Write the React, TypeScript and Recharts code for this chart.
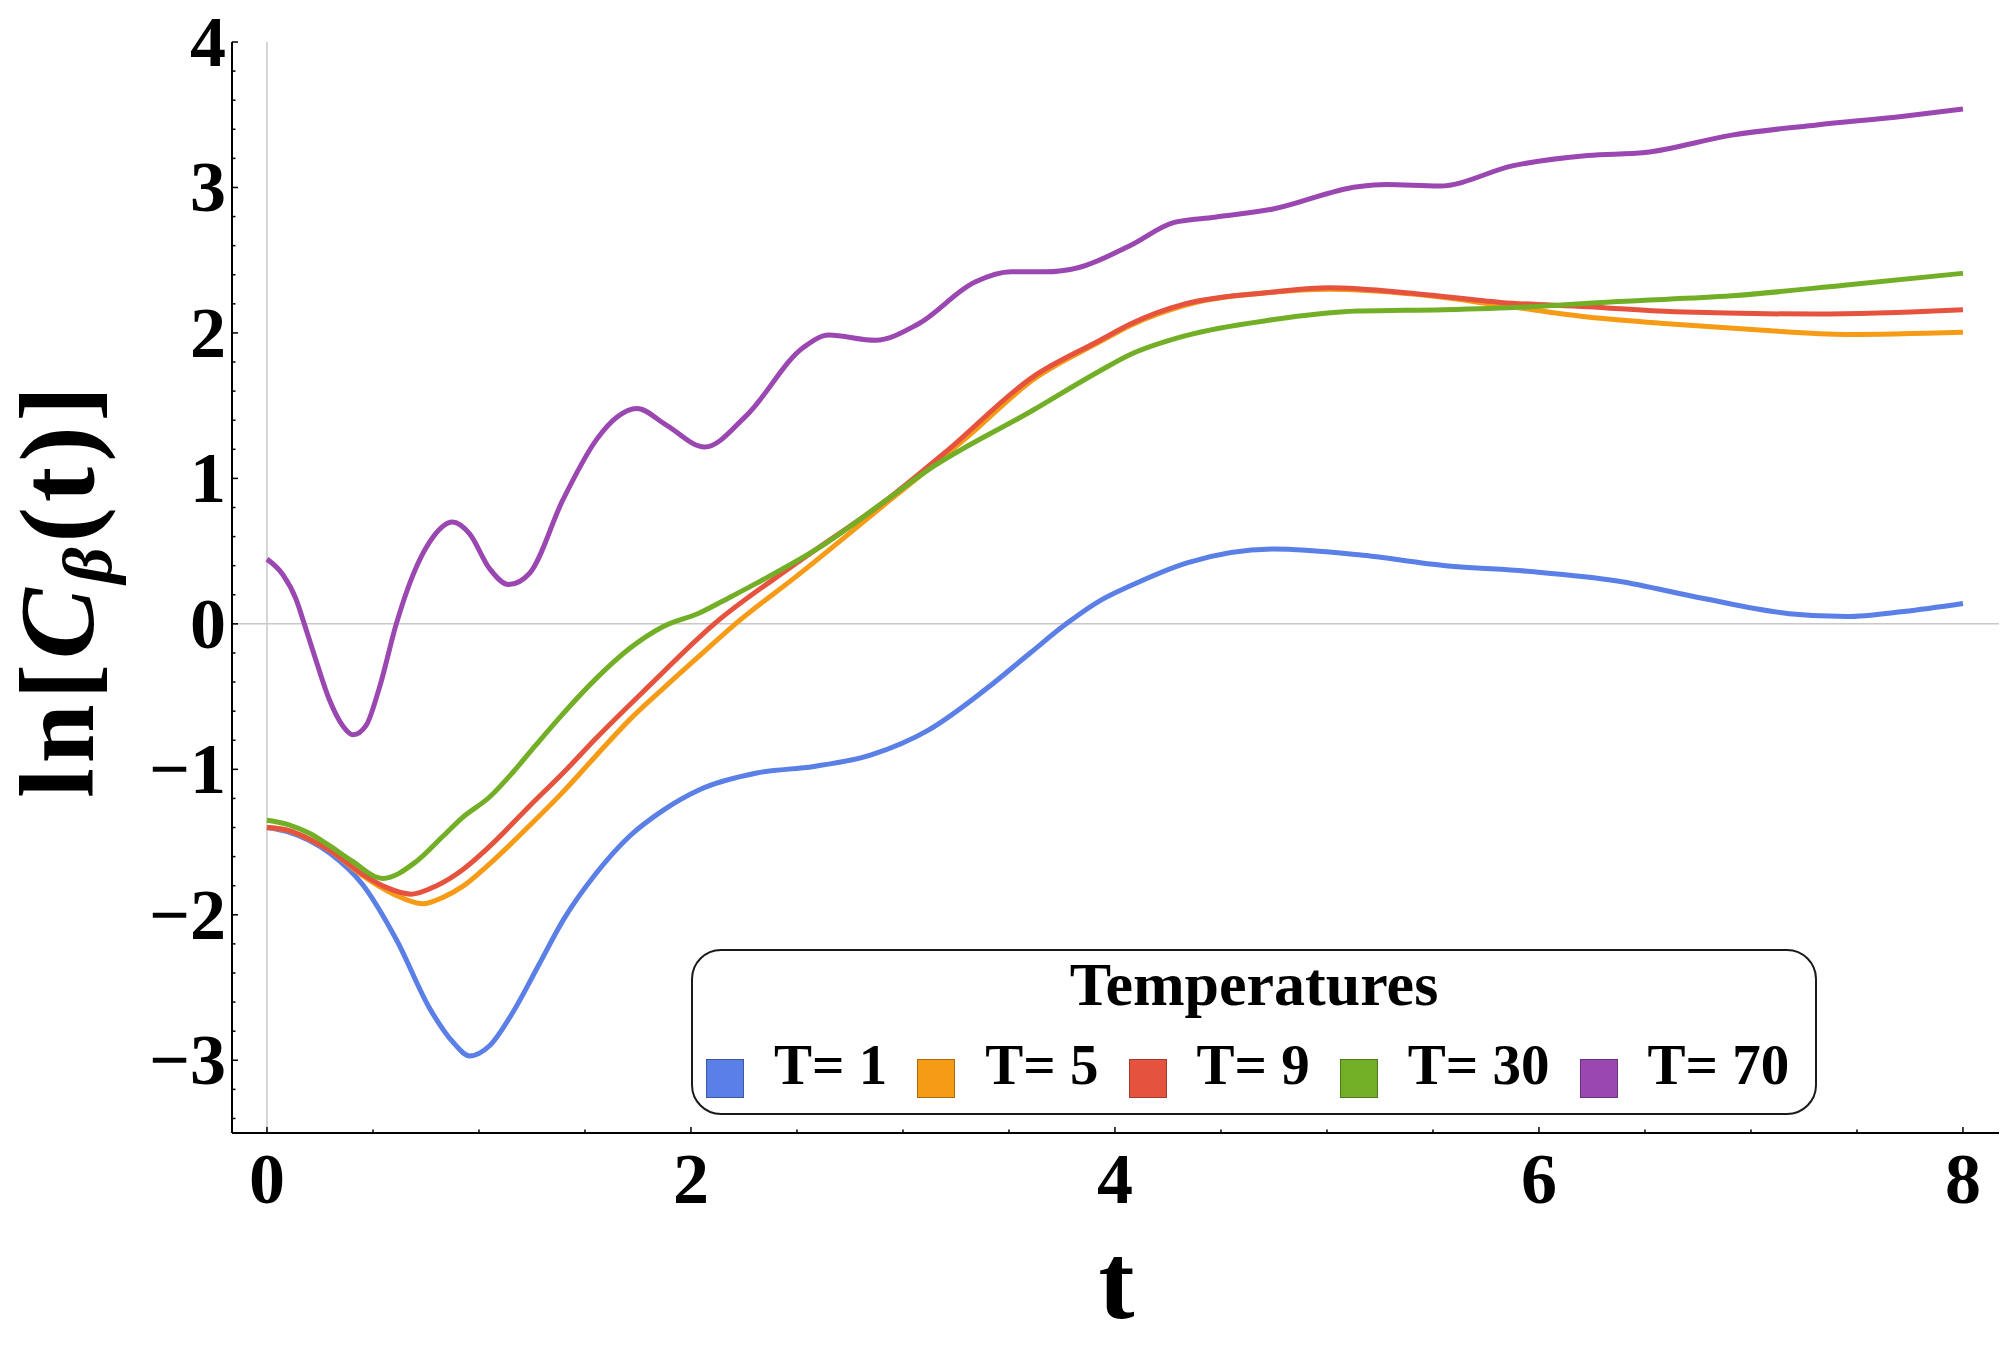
import React from "react";
import { LineChart, Line, XAxis, YAxis, ReferenceLine, Legend } from "recharts";

// ln[C_beta(t)], one pair of arrays per temperature
const tT1 = [0, 0.1, 0.2, 0.3, 0.45, 0.61, 0.77, 0.88, 0.955, 1.05, 1.16, 1.28, 1.4, 1.55, 1.71, 1.87, 2.04, 2.31, 2.58, 2.85, 3.12, 3.39, 3.6, 3.77, 3.93, 4.07, 4.34, 4.75, 5.15, 5.56, 5.96, 6.37, 6.77, 7.18, 7.45, 7.72, 8.0];
const lnT1 = [-1.4, -1.43, -1.49, -1.58, -1.79, -2.17, -2.65, -2.88, -2.97, -2.9, -2.67, -2.35, -2.03, -1.72, -1.46, -1.28, -1.14, -1.025, -0.98, -0.9, -0.73, -0.45, -0.2, 0, 0.16, 0.26, 0.42, 0.515, 0.475, 0.4, 0.36, 0.295, 0.176, 0.07, 0.05, 0.085, 0.14];

const tT5 = [0, 0.1, 0.2, 0.3, 0.45, 0.6, 0.734, 0.83, 0.923, 1.05, 1.24, 1.4, 1.55, 1.71, 1.88, 2.04, 2.21, 2.5, 2.93, 3.1, 3.3, 3.615, 3.93, 4.07, 4.33, 4.74, 5.01, 5.42, 5.82, 6.23, 6.64, 7.04, 7.45, 8.0];
const lnT5 = [-1.4, -1.42, -1.48, -1.56, -1.73, -1.86, -1.924, -1.88, -1.805, -1.65, -1.385, -1.15, -0.91, -0.66, -0.43, -0.22, 0, 0.33, 0.84, 1.04, 1.28, 1.68, 1.94, 2.05, 2.19, 2.28, 2.3, 2.265, 2.19, 2.11, 2.06, 2.02, 1.99, 2.005];

const tT9 = [0, 0.1, 0.2, 0.3, 0.45, 0.56, 0.68, 0.8, 0.923, 1.05, 1.24, 1.4, 1.55, 1.8, 2.11, 2.5, 2.93, 3.2, 3.615, 3.93, 4.07, 4.33, 4.74, 5.01, 5.42, 5.82, 6.23, 6.64, 7.31, 8.0];
const lnT9 = [-1.4, -1.42, -1.48, -1.56, -1.72, -1.81, -1.858, -1.8, -1.69, -1.53, -1.25, -1.02, -0.79, -0.43, 0, 0.42, 0.86, 1.18, 1.7, 1.95, 2.06, 2.2, 2.28, 2.31, 2.27, 2.21, 2.18, 2.145, 2.13, 2.16];

const tT30 = [0, 0.1, 0.2, 0.3, 0.4, 0.546, 0.703, 0.83, 0.923, 1.05, 1.16, 1.27, 1.395, 1.55, 1.71, 1.867, 2.04, 2.18, 2.31, 2.6, 2.93, 3.1, 3.615, 3.93, 4.07, 4.33, 4.74, 5.145, 5.55, 5.96, 6.37, 6.91, 7.45, 8.0];
const lnT30 = [-1.35, -1.38, -1.44, -1.53, -1.63, -1.75, -1.635, -1.46, -1.33, -1.19, -1.02, -0.83, -0.62, -0.38, -0.17, -0.02, 0.075, 0.18, 0.28, 0.52, 0.86, 1.04, 1.47, 1.74, 1.85, 1.98, 2.09, 2.15, 2.16, 2.18, 2.216, 2.255, 2.33, 2.41];

const tT70 = [0, 0.074, 0.137, 0.176, 0.231, 0.294, 0.357, 0.407, 0.467, 0.53, 0.61, 0.687, 0.766, 0.876, 0.955, 1.05, 1.14, 1.24, 1.395, 1.556, 1.65, 1.745, 1.88, 2.065, 2.26, 2.53, 2.65, 2.87, 3.07, 3.34, 3.51, 3.67, 3.83, 4.07, 4.28, 4.47, 4.74, 5.145, 5.28, 5.53, 5.88, 6.23, 6.5, 6.91, 7.31, 7.72, 8.0];
const lnT70 = [0.445, 0.34, 0.17, 0, -0.25, -0.52, -0.7, -0.763, -0.7, -0.44, 0, 0.33, 0.56, 0.7, 0.62, 0.38, 0.27, 0.35, 0.85, 1.27, 1.42, 1.48, 1.37, 1.216, 1.43, 1.9, 1.985, 1.95, 2.06, 2.35, 2.42, 2.42, 2.45, 2.6, 2.76, 2.795, 2.85, 3.005, 3.02, 3.01, 3.15, 3.22, 3.24, 3.36, 3.43, 3.49, 3.54];

const seriesNames = ["T= 1", "T= 5", "T= 9", "T= 30", "T= 70"];
const seriesColors = ["#5A7FE6", "#F59B16", "#E5533F", "#72AF27", "#9B47B1"];

const xMajor = [0, 2, 4, 6, 8];
const xTicks = [0, 0.5, 1, 1.5, 2, 2.5, 3, 3.5, 4, 4.5, 5, 5.5, 6, 6.5, 7, 7.5, 8];
const yMajor = [-3, -2, -1, 0, 1, 2, 3, 4];
const yTicks = [-3.4, -3.2, -3, -2.8, -2.6, -2.4, -2.2, -2, -1.8, -1.6, -1.4, -1.2, -1, -0.8, -0.6, -0.4, -0.2, 0, 0.2, 0.4, 0.6, 0.8, 1, 1.2, 1.4, 1.6, 1.8, 2, 2.2, 2.4, 2.6, 2.8, 3, 3.2, 3.4, 3.6, 3.8, 4];

const xDomain = [-0.165, 8.17];
const yDomain = [-3.5, 4];

const SERIF = "'Liberation Serif', 'Times New Roman', serif";

const toPoints = (ts: number[], vs: number[]) => ts.map((t, i) => ({ t, v: vs[i] }));

const series = [
  toPoints(tT1, lnT1),
  toPoints(tT5, lnT5),
  toPoints(tT9, lnT9),
  toPoints(tT30, lnT30),
  toPoints(tT70, lnT70),
];

const isIn = (list: number[], v: number) => list.some((m) => Math.abs(m - v) < 1e-6);

function FrameTick(props: any) {
  const { x, y, payload, side } = props;
  const v = payload.value;
  const horizontal = side === "bottom" || side === "top";
  const major = horizontal ? isIn(xMajor, v) : isIn(yMajor, v);
  const len = major ? 6 : 3.5;
  let line = null;
  if (side === "bottom") line = <line x1={x} x2={x} y1={y} y2={y - len} />;
  if (side === "top") line = <line x1={x} x2={x} y1={y} y2={y + len} />;
  if (side === "left") line = <line x1={x} x2={x + len} y1={y} y2={y} />;
  if (side === "right") line = <line x1={x} x2={x - len} y1={y} y2={y} />;

  let label = null;
  const text = v < 0 ? "\u2212" + Math.abs(v) : String(v);
  if (major && side === "bottom") {
    label = (
      <text x={x} y={y + 70} textAnchor="middle" fontSize={72} fontWeight="bold" fontFamily={SERIF} fill="#000">
        {text}
      </text>
    );
  }
  if (major && side === "left") {
    label = (
      <text x={x - 6} y={y + 24} textAnchor="end" fontSize={72} fontWeight="bold" fontFamily={SERIF} fill="#000">
        {text}
      </text>
    );
  }
  return (
    <g>
      <g stroke="#000" strokeWidth={1.5}>{line}</g>
      {label}
    </g>
  );
}

function YLabel(props: any) {
  const vb = props.viewBox;
  const cx = vb.x + 93;
  const cy = vb.y + vb.height / 2 + 2;
  return (
    <text
      x={cx}
      y={cy}
      transform={`rotate(-90 ${cx} ${cy})`}
      textAnchor="middle"
      fontSize={106}
      fontWeight="bold"
      fontFamily={SERIF}
      letterSpacing={5}
      fill="#000"
    >
      ln[<tspan fontStyle="italic">C</tspan>
      <tspan fontStyle="italic" fontSize={70} dy={18}>β</tspan>
      <tspan dy={-18}>(t)]</tspan>
    </text>
  );
}

function XLabel(props: any) {
  const vb = props.viewBox;
  return (
    <text
      x={vb.x + vb.width / 2 + 1}
      y={vb.y + 185}
      textAnchor="middle"
      fontSize={108}
      fontWeight="bold"
      fontFamily={SERIF}
      fill="#000"
    >
      t
    </text>
  );
}

function LegendBox(props: any) {
  const payload = [...(props.payload || [])].sort(
    (a: any, b: any) => seriesNames.indexOf(a.value) - seriesNames.indexOf(b.value)
  );
  return (
    <div
      style={{
        position: "relative",
        width: 1126,
        height: 166,
        boxSizing: "border-box",
        border: "2px solid #1a1a1a",
        borderRadius: 30,
        background: "#fff",
        fontFamily: SERIF,
        fontWeight: "bold",
        color: "#000",
      }}
    >
      <div
        style={{
          position: "absolute",
          left: 0,
          right: 0,
          top: 2,
          textAlign: "center",
          fontSize: 62,
          lineHeight: "62px",
        }}
      >
        Temperatures
      </div>
      <div
        style={{
          position: "absolute",
          left: 13,
          top: 85,
          display: "flex",
          alignItems: "flex-start",
          whiteSpace: "pre",
          fontSize: 57,
          lineHeight: "57px",
        }}
      >
        {payload.map((entry: any) => (
          <React.Fragment key={entry.value}>
            <span
              style={{
                display: "inline-block",
                width: 38,
                height: 39,
                marginTop: 23,
                marginRight: 30,
                boxSizing: "border-box",
                background: entry.color,
                border: "1px solid rgba(0,0,0,0.3)",
              }}
            />
            <span style={{ marginRight: 30 }}>{entry.value}</span>
          </React.Fragment>
        ))}
      </div>
    </div>
  );
}

export default function App() {
  return (
    <div style={{ position: "absolute", left: 0, top: 0, width: 2000, height: 1347, background: "#fff" }}>
      <LineChart width={2000} height={1347} margin={{ top: 42, right: 1, bottom: 0, left: 0 }}>
        <XAxis
          dataKey="t"
          type="number"
          domain={xDomain}
          allowDataOverflow
          ticks={xTicks}
          interval={0}
          height={214}
          tickSize={0}
          tickMargin={0}
          tickLine={false}
          axisLine={{ stroke: "#000", strokeWidth: 2 }}
          tick={(p: any) => <FrameTick {...p} side="bottom" />}
          label={(p: any) => <XLabel {...p} />}
        />
        <XAxis
          xAxisId="top"
          orientation="top"
          type="number"
          domain={xDomain}
          allowDataOverflow
          ticks={xTicks}
          interval={0}
          height={0}
          tickSize={0}
          tickMargin={0}
          tickLine={false}
          axisLine={{ stroke: "#000", strokeWidth: 2 }}
          tick={(p: any) => <FrameTick {...p} side="top" />}
        />
        <YAxis
          type="number"
          domain={yDomain}
          allowDataOverflow
          ticks={yTicks}
          interval={0}
          width={232}
          tickSize={0}
          tickMargin={0}
          tickLine={false}
          axisLine={{ stroke: "#000", strokeWidth: 2 }}
          tick={(p: any) => <FrameTick {...p} side="left" />}
          label={(p: any) => <YLabel {...p} />}
        />
        <YAxis
          yAxisId="right"
          orientation="right"
          type="number"
          domain={yDomain}
          allowDataOverflow
          ticks={yTicks}
          interval={0}
          width={0}
          tickSize={0}
          tickMargin={0}
          tickLine={false}
          axisLine={{ stroke: "#000", strokeWidth: 2 }}
          tick={(p: any) => <FrameTick {...p} side="right" />}
        />
        <ReferenceLine x={0} stroke="#c8c8c8" strokeWidth={1.5} />
        <ReferenceLine y={0} stroke="#c8c8c8" strokeWidth={1.5} />
        {series.map((pts, i) => (
          <Line
            key={seriesNames[i]}
            data={pts}
            dataKey="v"
            name={seriesNames[i]}
            type="monotone"
            stroke={seriesColors[i]}
            strokeWidth={5}
            dot={false}
            activeDot={false}
            isAnimationActive={false}
          />
        ))}
        <Legend
          layout="vertical"
          align="center"
          verticalAlign="middle"
          wrapperStyle={{ left: 691, top: 949, width: 1126, height: 166 }}
          content={(p: any) => <LegendBox {...p} />}
        />
      </LineChart>
    </div>
  );
}
